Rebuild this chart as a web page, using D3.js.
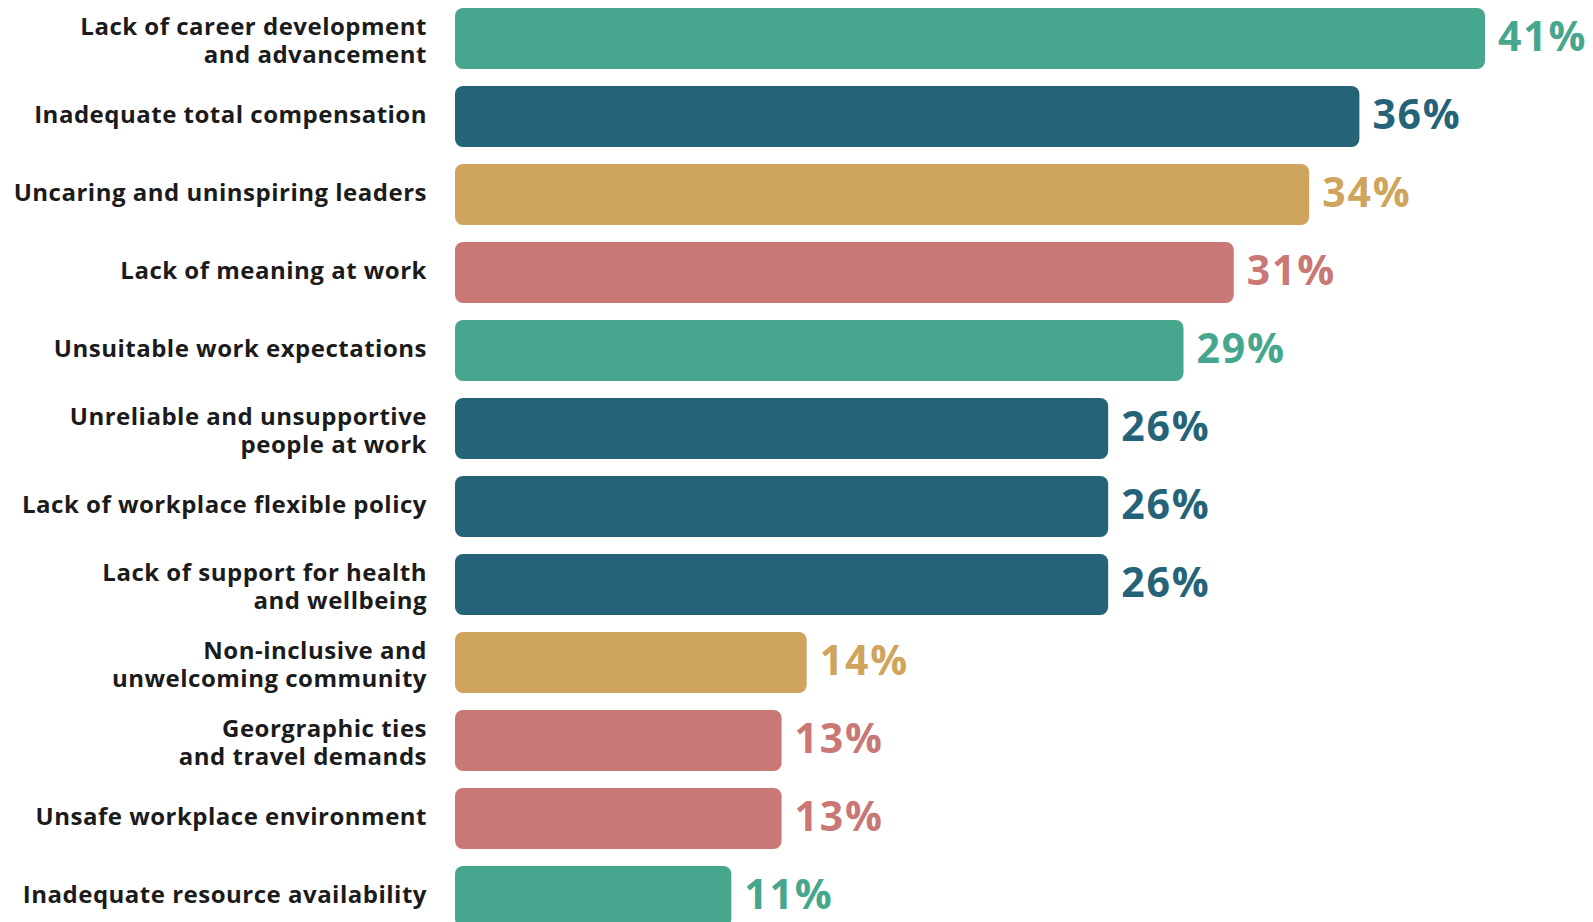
<!DOCTYPE html>
<html>
<head>
<meta charset="utf-8">
<script src="https://cdn.jsdelivr.net/npm/d3@7"></script>
<style>
  html, body { margin: 0; padding: 0; background: #fff; }
  svg { display: block; }
  .cat { font-family: "Open Sans", sans-serif; font-weight: 700; font-size: 24px; letter-spacing: 0.5px; fill: #1b1b1b; }
  .val { font-family: "Open Sans", sans-serif; font-weight: 700; font-size: 41px; letter-spacing: 1.8px; }
</style>
</head>
<body>
<div id="main"></div>
<script>
// DATA
const categories = [
    ["Lack of career development", "and advancement"]
  , ["Inadequate total compensation"]
  , ["Uncaring and uninspiring leaders"]
  , ["Lack of meaning at work"]
  , ["Unsuitable work expectations"]
  , ["Unreliable and unsupportive", "people at work"]
  , ["Lack of workplace flexible policy"]
  , ["Lack of support for health", "and wellbeing"]
  , ["Non-inclusive and", "unwelcoming community"]
  , ["Georgraphic ties", "and travel demands"]
  , ["Unsafe workplace environment"]
  , ["Inadequate resource availability"]
]
const values = [41, 36, 34, 31, 29, 26, 26, 26, 14, 13, 13, 11]
const colorKeys = ["teal", "navy", "gold", "rose", "teal", "navy", "navy", "navy", "gold", "rose", "rose", "teal"]

const palette = { teal: "#47a78e", navy: "#256378", gold: "#cfa45c", rose: "#c97876" }

// SETUP
const width = 1593
const height = 922

const svg = d3.select("#main").append("svg")
    .attr("width", width)
    .attr("height", height)

const rows = categories.map((c, i) => ({ lines: c, value: values[i], color: palette[colorKeys[i]], key: i }))

const y = d3.scaleBand()
    .domain(rows.map(d => d.key))
    .range([-0.5, 935.5])
    .paddingInner(0.218)
    .paddingOuter(0.109)

const x = d3.scaleLinear()
    .domain([0, 41])
    .range([455, 1485])

// BARS
svg.selectAll("rect.bar").data(rows)
  .enter().append("rect")
    .attr("class", "bar")
    .attr("x", x(0))
    .attr("y", d => y(d.key))
    .attr("width", d => x(d.value) - x(0))
    .attr("height", y.bandwidth())
    .attr("rx", 8)
    .attr("fill", d => d.color)

// VALUE LABELS
svg.selectAll("text.val").data(rows)
  .enter().append("text")
    .attr("class", "val")
    .attr("x", d => x(d.value) + 13)
    .attr("y", d => y(d.key) + y.bandwidth() / 2 - 2)
    .attr("dy", "0.35em")
    .attr("fill", d => d.color)
    .text(d => d.value + "%")

// CATEGORY LABELS
const lineH = 28.5
const cats = svg.selectAll("text.cat").data(rows)
  .enter().append("text")
    .attr("class", "cat")
    .attr("text-anchor", "end")
    .attr("x", 427)
    .attr("y", d => y(d.key) + y.bandwidth() / 2 - (d.lines.length - 1) * (lineH / 2 - 4) - 2)

cats.selectAll("tspan").data(d => d.lines)
  .enter().append("tspan")
    .attr("x", 427)
    .attr("dy", (d, i) => i === 0 ? "0.36em" : lineH)
    .text(d => d)
</script>
</body>
</html>
